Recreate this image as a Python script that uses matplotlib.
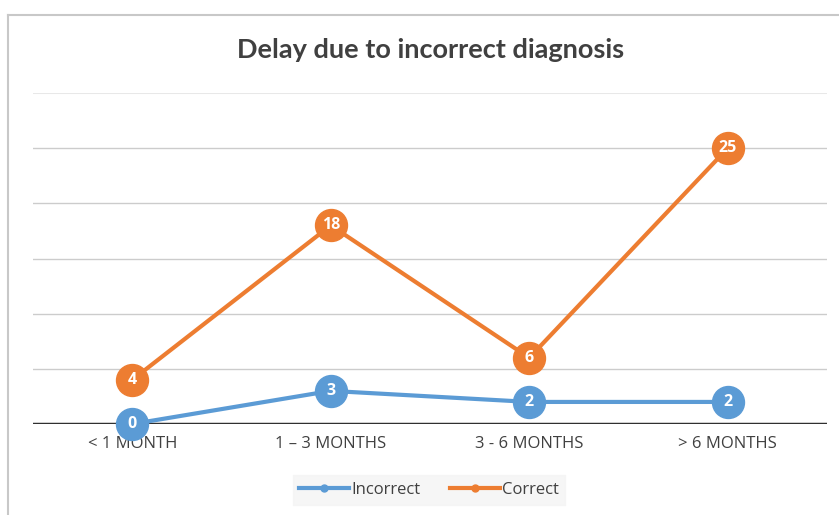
import matplotlib.pyplot as plt
from matplotlib.lines import Line2D

categories = ['< 1 MONTH', '1 – 3 MONTHS', '3 - 6 MONTHS', '> 6 MONTHS']
incorrect = [0, 3, 2, 2]
correct = [4, 18, 6, 25]

blue = '#5B9BD5'
orange = '#ED7D31'

W, H = 839, 515
fig = plt.figure(figsize=(W / 100, H / 100), dpi=100)
fig.patch.set_facecolor('white')

# outer chart frame (cut off on right and bottom)
fig.add_artist(Line2D([8 / W, 8 / W], [0, 1 - 15 / H], transform=fig.transFigure,
                      color='#c8c8c8', lw=1.5))
fig.add_artist(Line2D([8 / W, 1], [1 - 15 / H, 1 - 15 / H], transform=fig.transFigure,
                      color='#c8c8c8', lw=1.5))

ax = fig.add_axes([33 / W, 1 - 424 / H, (827 - 33) / W, (424 - 93) / H])
x = list(range(len(categories)))
ax.set_xlim(-0.5, len(categories) - 0.5)
ax.set_ylim(0, 30)

for v in [5, 10, 15, 20, 25]:
    ax.axhline(v, color='#cccccc', lw=1, zorder=0)
ax.axhline(30, color='#e8e8e8', lw=1.5, zorder=0)
ax.axhline(0, color='#303030', lw=2.5, zorder=1)

for vals, col, name in [(incorrect, blue, 'Incorrect'), (correct, orange, 'Correct')]:
    ax.plot(x, vals, color=col, lw=3, marker='o', markersize=23, label=name,
            clip_on=False, zorder=3)
    for xi, v in zip(x, vals):
        ax.text(xi, v, str(v), color='white', ha='center', va='center',
                fontsize=11.5, fontweight='bold', family='Open Sans', zorder=4)

for s in ax.spines.values():
    s.set_visible(False)
ax.set_yticks([])
ax.set_xticks(x)
ax.set_xticklabels(categories, family='Open Sans', fontsize=12, color='#404040')
ax.tick_params(axis='x', length=0, pad=9)

fig.text(431 / W, 1 - 50 / H, 'Delay due to incorrect diagnosis', ha='center', va='center',
         fontsize=19.5, fontweight='bold', color='#404040', family='Lato')

handles = [Line2D([0], [0], color=blue, lw=3, marker='o', markersize=5),
           Line2D([0], [0], color=orange, lw=3, marker='o', markersize=5)]
leg = fig.legend(handles, ['Incorrect', 'Correct'], loc='center',
                 bbox_to_anchor=(429 / W, 1 - 490 / H), ncol=2, frameon=True,
                 fancybox=False, handlelength=3, handletextpad=0.1,
                 columnspacing=1.8,
                 prop={'family': 'Open Sans', 'size': 12})
leg.get_frame().set_facecolor('#f4f4f4')
leg.get_frame().set_edgecolor('#f4f4f4')
for t in leg.get_texts():
    t.set_color('#404040')

fig.savefig('out.png', dpi=100)
